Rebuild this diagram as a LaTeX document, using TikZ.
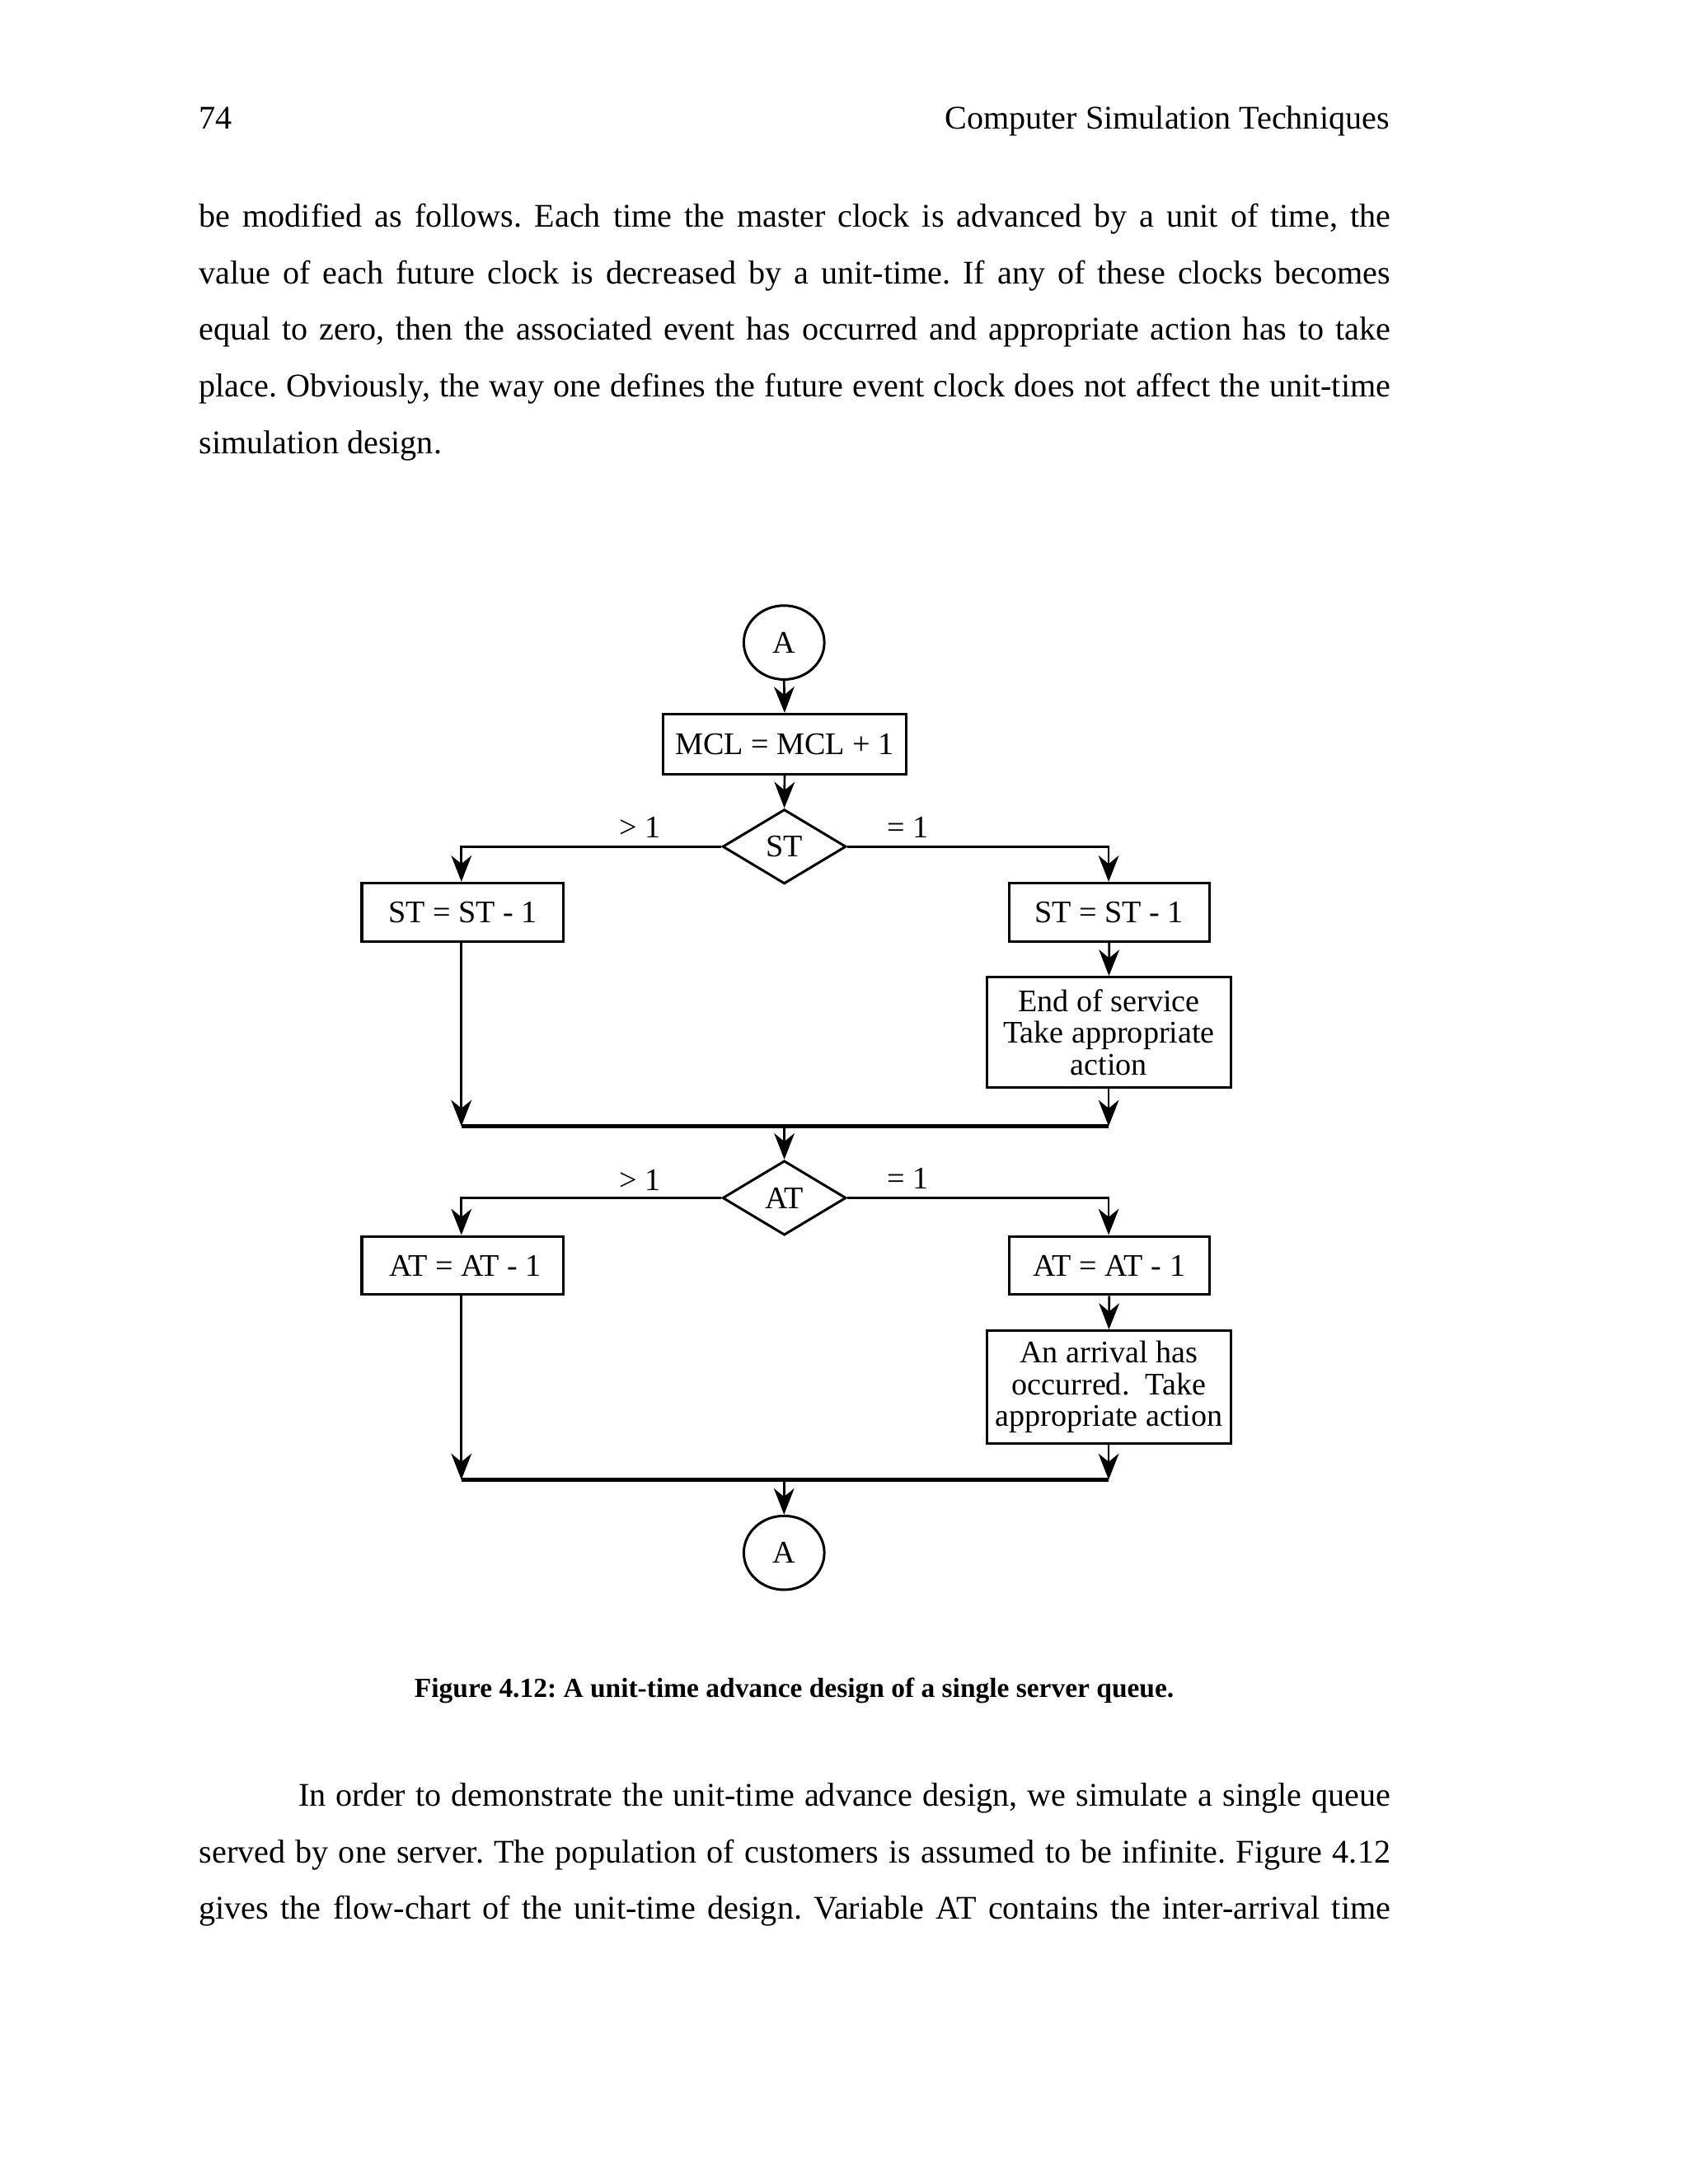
\documentclass[tikz,border=0pt]{standalone}
\usepackage{fontspec}
\setmainfont{Liberation Serif}
\usetikzlibrary{arrows.meta,shapes.geometric}
\frenchspacing
\begin{document}
\frenchspacing
\begin{tikzpicture}[x=1pt,y=-1pt,
  body/.style={anchor=base west,inner sep=0pt,font=\fontsize{12}{14}\selectfont},
  box/.style={draw,line width=0.9pt,inner sep=0pt,align=center,font=\fontsize{11.4}{11.5}\selectfont},
  dec/.style={draw,diamond,line width=0.9pt,inner sep=0pt,minimum width=44.8pt,minimum height=27pt,font=\fontsize{11.4}{11.5}\selectfont},
  conn/.style={draw,ellipse,line width=0.9pt,inner sep=0pt,minimum width=29.2pt,minimum height=26.8pt,font=\fontsize{11.4}{11.5}\selectfont},
  lbl/.style={anchor=base,inner sep=0pt,font=\fontsize{11.4}{11.5}\selectfont},
  arr/.style={line width=0.8pt,-{Stealth[length=9.5pt,width=7.4pt,inset=3pt]}},
  merge/.style={line width=1.5pt}
]
\useasboundingbox (0,0) rectangle (612,792);

% header
\node[body] (pg) at (72,46.8) {74};
\node[body,anchor=base east] (hd) at (504,46.8) {Computer Simulation Techniques};

% paragraph 1
\node[body] (p1a) at (72,82.4) {\makebox[432pt][s]{be modified as follows. Each time the master clock is advanced by a unit of time, the}};
\node[body] (p1b) at (72,102.9) {\makebox[432pt][s]{value of each future clock is decreased by a unit-time. If any of these clocks becomes}};
\node[body] (p1c) at (72,123.4) {\makebox[432pt][s]{equal to zero, then the associated event has occurred and appropriate action has to take}};
\node[body] (p1d) at (72,143.9) {\makebox[432pt][s]{place. Obviously, the way one defines the future event clock does not affect the unit-time}};
\node[body] (p1e) at (72,164.4) {simulation design.};

% flowchart
\node[conn] (cA) at (284.3,233.0) {A};
\node[box,minimum width=88.3pt,minimum height=21.7pt] (mcl) at (284.5,269.8) {MCL = MCL + 1};
\node[dec] (st) at (284.4,307.0) {ST};
\node[box,minimum width=73.2pt,minimum height=21.2pt] (stL) at (167.8,330.8) {ST = ST - 1};
\node[box,minimum width=72.7pt,minimum height=21.2pt] (stR) at (402.2,330.8) {ST = ST - 1};
\node[box,minimum width=88.3pt,minimum height=39.9pt] (eos) at (402.1,374.3) {End of service\\Take appropriate\\action};
\node[lbl] (g1) at (232.2,303.8) {> 1};
\node[lbl] (e1) at (329.1,303.8) {= 1};

\coordinate (m1L) at (167.3,408.4);
\coordinate (m1R) at (402.0,408.4);

\node[dec] (at) at (284.4,434.4) {AT};
\node[box,minimum width=73.2pt,minimum height=21.2pt] (atL) at (167.8,458.9) {\,AT = AT - 1};
\node[box,minimum width=72.7pt,minimum height=21.2pt] (atR) at (402.2,458.9) {AT = AT - 1};
\node[box,minimum width=88.3pt,minimum height=40.9pt] (arv) at (402.1,503.0) {An arrival has\\occurred.\ \ Take\\appropriate action};
\node[lbl] (g2) at (232.2,431.8) {> 1};
\node[lbl] (e2) at (329.1,431.0) {= 1};

\coordinate (m2L) at (167.3,536.6);
\coordinate (m2R) at (402.0,536.6);

\node[conn] (cB) at (284.3,563.1) {A};

% connectors
\draw[arr] (cA.south) -- (mcl.north);
\draw[arr] (mcl.south) -- (st.north);
\draw[arr] (st.west) -| (m1L |- stL.north);
\draw[arr] (st.east) -| (m1R |- stR.north);
\draw[arr] (stR.south) -- (eos.north);
\draw[arr] (m1L |- stL.south) -- (m1L);
\draw[arr] (m1R |- eos.south) -- (m1R);
\draw[merge] (m1L) -- (m1R);
\draw[arr] (at.north |- m1L) -- (at.north);
\draw[arr] (at.west) -| (m2L |- atL.north);
\draw[arr] (at.east) -| (m2R |- atR.north);
\draw[arr] (atR.south) -- (arv.north);
\draw[arr] (m2L |- atL.south) -- (m2L);
\draw[arr] (m2R |- arv.south) -- (m2R);
\draw[merge] (m2L) -- (m2R);
\draw[arr] (cB.north |- m2L) -- (cB.north);

% caption
\node[anchor=base,inner sep=0pt,font=\fontsize{10}{12}\selectfont\bfseries] (cap) at (288,615.4) {Figure 4.12: A unit-time advance design of a single server queue.};

% paragraph 2
\node[body] (p2a) at (108,655.0) {\makebox[396pt][s]{In order to demonstrate the unit-time advance design, we simulate a single queue}};
\node[body] (p2b) at (72,675.5) {\makebox[432pt][s]{served by one server. The population of customers is assumed to be infinite. Figure 4.12}};
\node[body] (p2c) at (72,696.0) {\makebox[432pt][s]{gives the flow-chart of the unit-time design. Variable AT contains the inter-arrival time}};
\end{tikzpicture}
\end{document}
